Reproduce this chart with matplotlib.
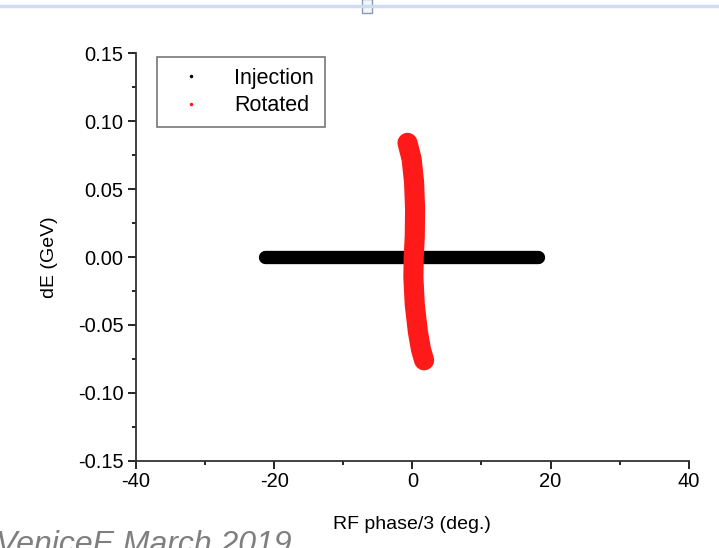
import matplotlib
matplotlib.use("Agg")
import matplotlib.pyplot as plt
from matplotlib.lines import Line2D
from matplotlib.patches import Rectangle

plt.rcParams['font.family'] = ['Liberation Sans', 'DejaVu Sans']

# Injection band (phase extent, energy)
inj_x = [-21.3, 18.2]
inj_y = [0.0, 0.0]

# Rotated band centre line
rot_y = [0.084, 0.072, 0.055, 0.035, 0.015, 0.000, -0.015, -0.035, -0.055, -0.068, -0.076]
rot_x = [-0.7, -0.1, 0.25, 0.4, 0.35, 0.2, 0.15, 0.35, 0.8, 1.25, 1.7]

xticks = [-40, -20, 0, 20, 40]
yticks = [-0.15, -0.10, -0.05, 0.00, 0.05, 0.10, 0.15]

fig = plt.figure(figsize=(7.19, 5.48), dpi=100)
ax = fig.add_axes([0.189, 0.159, 0.769, 0.744])

ax.plot(inj_x, inj_y, color='black', lw=9.6, solid_capstyle='round', zorder=2)
ax.plot(rot_x, rot_y, color='#ff1a1a', lw=14.5, solid_capstyle='round',
        solid_joinstyle='round', zorder=3)

ax.set_xlim(-40, 40)
ax.set_ylim(-0.15, 0.15)
ax.set_xticks(xticks)
ax.set_yticks(yticks)
ax.set_xticks([-30, -10, 10, 30], minor=True)
ax.set_yticks([-0.125, -0.075, -0.025, 0.025, 0.075, 0.125], minor=True)
ax.set_yticklabels([f"{v:.2f}" for v in yticks])
ax.set_xticklabels([str(v) for v in xticks])
ax.tick_params(which='major', direction='out', length=6, width=1.2, labelsize=14.5, colors='black')
ax.tick_params(which='minor', direction='out', length=3, width=1.2)
ax.tick_params(axis='x', pad=2)
ax.tick_params(axis='y', pad=3)
for s in ['top', 'right']:
    ax.spines[s].set_visible(False)
for s in ['left', 'bottom']:
    ax.spines[s].set_linewidth(1.3)
    ax.spines[s].set_color('#333333')

ax.set_xlabel('RF phase/3 (deg.)', fontsize=14, labelpad=18)
ax.set_ylabel('dE (GeV)', fontsize=14, labelpad=14)

handles = [Line2D([], [], ls='none', marker='.', ms=3, color='black'),
           Line2D([], [], ls='none', marker='.', ms=3, color='#ff1a1a')]
leg = ax.legend(handles, ['Injection', 'Rotated'], loc='upper left',
                bbox_to_anchor=(0.038, 0.99), fontsize=15.5, frameon=True,
                fancybox=False, edgecolor='#555555', handlelength=2.2,
                handletextpad=0.9, borderpad=0.5, labelspacing=0.3,
                borderaxespad=0.0)
leg.get_frame().set_linewidth(1.2)

# screenshot artifacts
fig.add_artist(Line2D([0, 1], [0.989, 0.989], transform=fig.transFigure,
                      color='#cfdcef', lw=2.5))
fig.add_artist(Rectangle((0.503, 0.977), 0.014, 0.025, transform=fig.transFigure,
                         facecolor='#f4f6fa', edgecolor='#8899b0', lw=1.0))
fig.text(-0.006, -0.010, 'VeniceE March 2019', fontsize=23, style='italic',
         color='#7f7f7f', ha='left', va='baseline')

fig.savefig('out.png', dpi=100)
